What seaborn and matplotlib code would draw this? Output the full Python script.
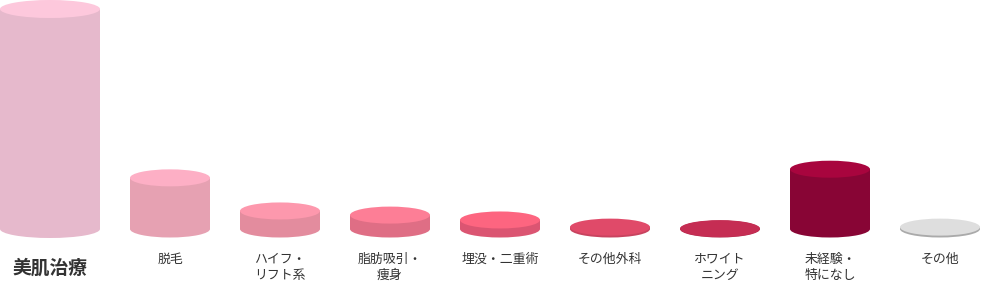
import matplotlib
matplotlib.use("Agg")
import matplotlib.pyplot as plt
from matplotlib.patches import Ellipse
from matplotlib.transforms import blended_transform_factory
import seaborn as sns
import pandas as pd

categories = ["美肌治療", "脱毛", "ハイフ・\nリフト系", "脂肪吸引・\n痩身", "埋没・二重術",
              "その他外科", "ホワイト\nニング", "未経験・\n特になし", "その他"]
values = [58.5, 13.6, 4.8, 3.7, 2.4, 0.5, 0.1, 15.9, 0.5]
side_colors = ["#e6b9cc", "#e6a1b2", "#e38c9e", "#df6e85", "#db5572",
               "#c8435f", "#b0284a", "#880535", "#aaaaaa"]
top_colors = ["#fdc8dc", "#fdafc5", "#fd98ad", "#fd7e96", "#fd6580",
              "#e04a69", "#c52d53", "#a8053e", "#dedede"]

W, H = 981, 282
sns.set_theme(style="white")
plt.rcParams["font.family"] = ["Noto Sans CJK JP", "DejaVu Sans"]

fig = plt.figure(figsize=(W / 100, H / 100), dpi=100)
ax = fig.add_axes([0, 0, 1, 1])

df = pd.DataFrame({"cat": categories, "val": values})
sns.barplot(data=df, x="cat", y="val", hue="cat", palette=side_colors,
            legend=False, width=80 / 110, ax=ax, linewidth=0, saturation=1)

k = 220 / values[0]          # pixels per value unit
px_x = 110                   # pixels per category step
ax.set_xlim(-60 / px_x, (W - 60) / px_x)
ax.set_ylim(-53 / k, 229 / k)

# widen first bar to match the reference layout
patches = list(ax.patches)
first = patches[0]
first.set_x(-60 / px_x)
first.set_width(100 / px_x)

for i, p in enumerate(patches):
    cx = p.get_x() + p.get_width() / 2
    w = p.get_width()
    eh = 18 / k if i == 0 else 17 / k
    ax.add_patch(Ellipse((cx, 0), w, eh, facecolor=side_colors[i], edgecolor="none", zorder=1))
    p.set_zorder(2)
    ax.add_patch(Ellipse((cx, p.get_height()), w, eh, facecolor=top_colors[i],
                         edgecolor="none", zorder=3))

trans = blended_transform_factory(ax.transData, fig.transFigure)
for i, p in enumerate(patches):
    cx = p.get_x() + p.get_width() / 2
    if i == 0:
        ax.text(cx, 1 - 268 / H, categories[i], transform=trans, ha="center", va="center",
                fontsize=13.5, fontweight="bold", color="#333333")
    else:
        ax.text(cx, 1 - 253 / H, categories[i], transform=trans, ha="center", va="top",
                fontsize=9.3, color="#333333", linespacing=1.3, multialignment="center")

ax.set_axis_off()
fig.savefig("out.png", dpi=100)
